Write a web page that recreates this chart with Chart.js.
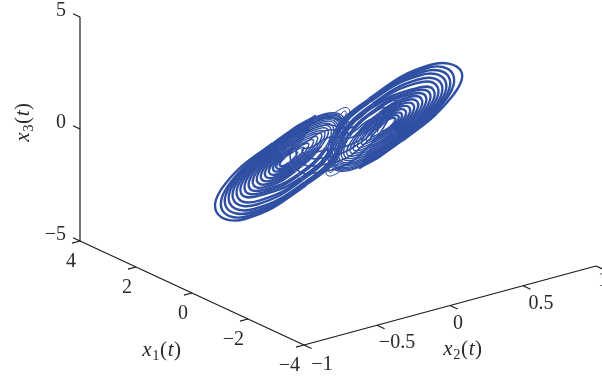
<!DOCTYPE html>
<html>
<head>
<meta charset="utf-8">
<script src="https://cdn.jsdelivr.net/npm/chart.js@4"></script>
<style>
  html, body { margin: 0; padding: 0; background: #fff; }
  canvas { display: block; }
</style>
</head>
<body>
<canvas id="chart" width="602" height="379"></canvas>
<script>
// axis ticks
const x1Ticks = [4, 2, 0, -2, -4];
const x2Ticks = [-1, -0.5, 0, 0.5, 1];
const x3Ticks = [5, 0, -5];

// trajectory, in the units of the viewing plane, one row per turn
const leftLobeH = [
  298,295.9,289.1,283.5,279.9,280.5,284.9,293.3,
  303.6,300.9,290,281.9,276.7,277.5,284,296.5,
  308.3,304.9,291,280.3,273.6,274.7,283,299.3,
  313.1,308.8,291.9,278.1,269.6,271.3,282.1,302,
  317,312.3,292.8,276,265.7,267.8,281.2,304.1,
  321,315.7,293.7,273.8,261.7,264.4,280.3,306.3,
  324.1,318.7,294.6,271.7,257.8,260.9,279.4,307.9,
  327.3,321.5,295.5,269.5,253.8,257.5,278.5,309.5,
  329.7,325.5,298.1,267.4,249.9,254,277.5,310.5,
  332,327.8,299,265.2,245.9,250.6,276.6,311.6,
  334.4,331.1,300.8,262.9,242,247.3,276.7,312.7,
  336,332.9,301.7,259.2,238,243.9,275.8,313.3,
  337.6,334.7,302.6,256.8,234.1,240.4,274.9,313.7,
  339.1,337.4,304.4,254,230.1,237.3,274.6,314.4,
  340.7,339,305,251,226.2,234.1,274,315.1,
  341.5,340,305.6,248,222.2,230.9,273.4,315.3,
  343.1,342,306.3,245,216.5,226,272.7,315.9
];
const leftLobeV = [
  151.5,155.9,162.8,165.8,165.5,161.9,157.2,152,
  147.2,153.7,164,168.4,167.9,162.8,156,148.1,
  143.5,152,165.1,170.9,170.4,163.7,154.9,144.8,
  139.9,150.3,166.3,174,173.4,165,153.7,141.3,
  136.8,148.9,167.5,176.9,176.5,166.3,152.5,138.3,
  133.8,147.6,168.7,179.9,179.5,167.7,151.3,135.4,
  131.3,146.7,169.9,182.9,182.6,168.9,150.1,132.7,
  128.9,145.8,171.1,185.9,185.6,170.3,148.9,130.2,
  127.1,147.4,174.2,189,188.7,171.6,147.8,128,
  125.2,146.9,175.4,191.9,191.7,172.9,146.6,125.9,
  123.4,147.7,177.7,194.7,194.8,174.5,147.9,124,
  122.2,147.7,178.9,200.6,197.8,175.8,146.7,122.4,
  121,147.6,180.1,204.5,200.9,177.2,145.5,120.7,
  119.7,148.9,182.4,209,203.9,178.7,145.6,119.3,
  118.5,149,183.2,212.5,207,180.3,144.8,117.8,
  117.9,149.7,184,216,210,181.9,144,116.9,
  116.7,150,185,219,212,183,143.2,115.4
];
const rightLobeH = [
  377,379.1,385.9,391.5,395.1,394.5,390.1,381.7,
  371.4,374.1,385,393.1,398.3,397.5,391,378.5,
  366.7,370.1,384,394.7,401.4,400.3,392,375.7,
  361.9,366.2,383.1,396.9,405.4,403.7,392.9,373,
  358,362.7,382.2,399,409.3,407.2,393.8,370.9,
  354,359.3,381.3,401.2,413.3,410.6,394.7,368.7,
  350.9,356.3,380.4,403.3,417.2,414.1,395.6,367.1,
  347.7,353.5,379.5,405.5,421.2,417.5,396.5,365.5,
  345.3,349.5,376.9,407.6,425.1,421,397.5,364.5,
  343,347.2,376,409.8,429.1,424.4,398.4,363.4,
  340.6,343.9,374.2,412.1,433,427.7,398.3,362.3,
  339,342.1,373.3,415.8,437,431.1,399.2,361.7,
  337.4,340.3,372.4,418.2,440.9,434.6,400.1,361.3,
  335.9,337.6,370.6,421,444.9,437.7,400.4,360.6,
  334.3,336,370,424,448.8,440.9,401,359.9,
  333.5,335,369.4,427,452.8,444.1,401.6,359.7,
  331.9,333,368.7,430,461,450,402.3,359.1
];
const rightLobeV = [
  132.5,128.1,121.2,118.2,118.5,122.1,126.8,132,
  136.8,130.3,120,115.6,116.1,121.2,128,135.9,
  140.5,132,118.9,113.1,113.6,120.3,129.1,139.2,
  144.1,133.7,117.7,110,110.6,119,130.3,142.7,
  147.2,135.1,116.5,107.1,107.5,117.7,131.5,145.7,
  150.2,136.4,115.3,104.1,104.5,116.3,132.7,148.6,
  152.7,137.3,114.1,101.1,101.4,115.1,133.9,151.3,
  155.1,138.2,112.9,98.1,98.4,113.7,135.1,153.8,
  156.9,136.6,109.8,95,95.3,112.4,136.2,156,
  158.8,137.1,108.6,92.1,92.3,111.1,137.4,158.1,
  160.6,136.3,106.3,89.3,89.2,109.5,136.1,160,
  161.8,136.3,105.1,83.4,86.2,108.2,137.3,161.6,
  163,136.4,103.9,79.5,83.1,106.8,138.5,163.3,
  164.3,135.1,101.6,75,80.1,105.3,138.4,164.7,
  165.5,135,100.8,71.5,77,103.7,139.2,166.2,
  166.1,134.3,100,68,74,102.1,140,167.1,
  167.3,134,99,65,71,99,140.8,168.6
];
// turns that cross from one lobe to the other
const bridgeH = [
  295,325,352,372,395,385,365,345,320,300,290,
  300,325,350,370,385,378,360,342,320,305,296,
  305,328,350,366,376,372,357,340,322,310,302,
  312,330,350,362,368,364,354,340,326,316
];
const bridgeV = [
  135,118,122,108,98,125,150,165,172,172,155,
  138,125,128,115,108,128,148,160,165,165,152,
  143,130,133,122,118,132,145,154,158,158,150,
  147,137,138,130,127,137,143,148,150,152
];
// the two small excursions where the lobes meet
const upperLoopH = [330, 339, 346, 349.5, 349, 344, 338, 341, 345, 346, 343, 337];
const upperLoopV = [116, 110, 107.5, 110, 117, 120.5, 118, 114, 111, 114, 118, 119];
const lowerLoopH = [345, 336, 329, 326, 327, 331, 337, 334, 330, 329, 332, 338];
const lowerLoopV = [168, 174, 176, 173, 166, 163.5, 166, 170, 172.5, 169, 166, 165];

// oblique view of the box: x1 runs down to the right, x2 up to the right, x3 straight up
function project(x1, x2, x3) {
  return {
    x: 80 + (4 - x1) * 28 + (x2 + 1) * 146,
    y: 241 + (4 - x1) * 13 - (x2 + 1) * 39.5 - (x3 + 5) * 22.4
  };
}

function toPoints(h, v) {
  return h.map((value, i) => ({ x: value, y: v[i] }));
}

const axisColor = '#1c1a1a';
const traceColor = '#2f4fa3';
const textColor = '#2b2829';
const numberFont = '20px "Liberation Serif"';

// each turn has eight points; the line is drawn finer where the turns crowd together near the middle
const turnWidths = [1.4, 1.9, 2.4, 2.4, 2.4, 2.4, 1.9, 1.4];

function axisLine(points) {
  return { data: points, showLine: true, borderColor: axisColor, borderWidth: 1.2, pointRadius: 0, tension: 0 };
}

function traceLine(points, width) {
  return { data: points, showLine: true, borderColor: traceColor, borderWidth: width, pointRadius: 0, tension: 0.45 };
}

function lobeLine(points) {
  const line = traceLine(points, 2.4);
  line.segment = { borderWidth: ctx => turnWidths[ctx.p0DataIndex % 8] };
  return line;
}

const datasets = [
  lobeLine(toPoints(leftLobeH, leftLobeV)),
  lobeLine(toPoints(rightLobeH, rightLobeV)),
  traceLine(toPoints(bridgeH, bridgeV), 1.6),
  traceLine(toPoints(upperLoopH, upperLoopV), 1),
  traceLine(toPoints(lowerLoopH, lowerLoopV), 1),
  axisLine([project(4, -1, 5), project(4, -1, -5)]),
  axisLine([project(4, -1, -5), project(-4, -1, -5)]),
  axisLine([project(-4, -1, -5), project(-4, 1, -5)])
];
x3Ticks.forEach(t => datasets.push(axisLine([project(4, -1, t), project(4.25, -1, t)])));
x1Ticks.forEach(t => datasets.push(axisLine([project(t, -1, -5), project(t, -1.055, -5)])));
x2Ticks.forEach(t => datasets.push(axisLine([project(-4, t, -5), project(-4.27, t, -5)])));

function number(value) {
  return String(value).replace('-', '\u2212');
}

// math label pieces: [text, italic, subscript]
function drawMath(ctx, name, sub) {
  const pieces = [[name, true, false], [sub, false, true], ['(', false, false], ['t', true, false], [')', false, false]];
  const fontOf = p => (p[1] ? 'italic ' : '') + (p[2] ? '14.5px' : '21px') + ' "Liberation Serif"';
  let total = 0;
  pieces.forEach(p => { ctx.font = fontOf(p); total += ctx.measureText(p[0]).width + 0.6; });
  let at = -total / 2;
  ctx.textAlign = 'left';
  ctx.textBaseline = 'alphabetic';
  pieces.forEach(p => {
    ctx.font = fontOf(p);
    ctx.fillText(p[0], at, p[2] ? 10 : 6);
    at += ctx.measureText(p[0]).width + 0.6;
  });
}

const boxLabels = {
  id: 'boxLabels',
  afterDraw(chart) {
    const ctx = chart.ctx;
    const sx = chart.scales.x;
    const sy = chart.scales.y;
    const place = (p, dx, dy) => ({ x: sx.getPixelForValue(p.x) + dx, y: sy.getPixelForValue(p.y) + dy });
    const put = (text, p, align) => {
      ctx.textAlign = align;
      ctx.fillText(text, p.x, p.y);
    };
    ctx.save();
    ctx.fillStyle = textColor;
    ctx.font = numberFont;
    ctx.textBaseline = 'middle';
    x3Ticks.forEach(t => put(number(t), place(project(4, -1, t), -14, -6), 'right'));
    x1Ticks.forEach(t => put(number(t), place(project(t, -1, -5), -4, 21), 'right'));
    const x2Dx = [18, 20, 8, 18, 7];
    const x2Dy = [20, 17, 18, 18, 15];
    x2Ticks.forEach((t, i) => put(number(t), place(project(-4, t, -5), x2Dx[i], x2Dy[i]), 'center'));

    ctx.save();
    ctx.translate(162, 350);
    drawMath(ctx, 'x', '1');
    ctx.restore();
    ctx.save();
    ctx.translate(463, 349);
    drawMath(ctx, 'x', '2');
    ctx.restore();
    ctx.save();
    ctx.translate(23, 122);
    ctx.rotate(-Math.PI / 2);
    drawMath(ctx, 'x', '3');
    ctx.restore();
    ctx.restore();
  }
};

new Chart(document.getElementById('chart').getContext('2d'), {
  type: 'scatter',
  data: { datasets: datasets },
  options: {
    responsive: false,
    animation: false,
    layout: { padding: 0 },
    plugins: { legend: { display: false }, tooltip: { enabled: false } },
    scales: {
      x: { type: 'linear', display: false, min: 0, max: 602 },
      y: { type: 'linear', display: false, min: 0, max: 379, reverse: true }
    }
  },
  plugins: [boxLabels]
});
</script>
</body>
</html>
